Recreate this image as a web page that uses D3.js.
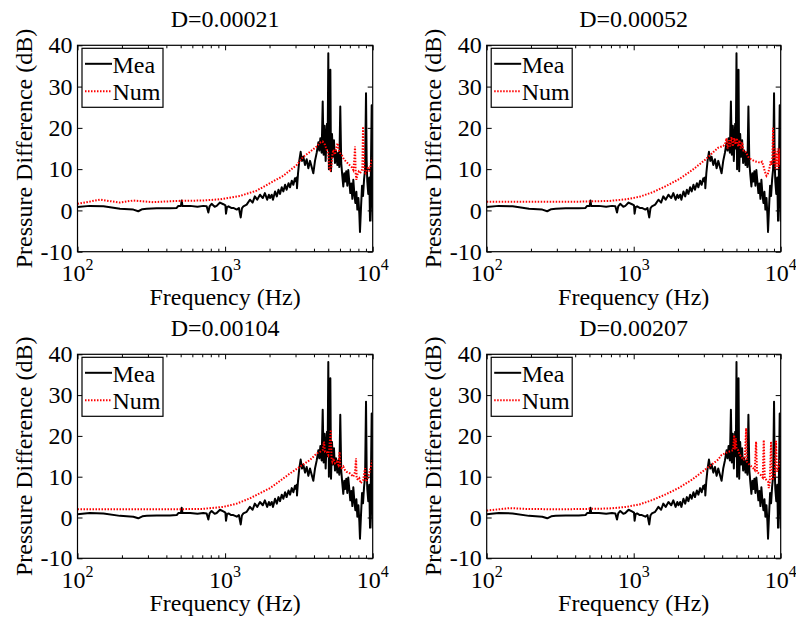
<!DOCTYPE html>
<html><head><meta charset="utf-8">
<script src="https://cdn.jsdelivr.net/npm/d3@7"></script>
<style>
body{margin:0;background:#fff}
text{font-family:"Liberation Serif","Tinos","Nimbus Roman","FreeSerif";}
</style>
</head><body><svg id="c" width="796" height="618" style="font-family:'Liberation Serif'"></svg>
<script>
// ---------- data ----------
const titles = ["D=0.00021", "D=0.00052", "D=0.00104", "D=0.00207"];
const seriesNames = ["Mea", "Num"];
const yTicks = [-10, 0, 10, 20, 30, 40];
const xMajor = [100, 1000, 10000];
const xMajorExp = ["2", "3", "4"];

const meaFreq = [100,121,150,194,239,258,275,295,344,423,470,482,502,508,514,580,650,711,750,770,785,810,850,877,923,973,1005,1014,1030,1055,1100,1137,1200,1240,1276,1300,1330,1400,1473,1536,1590,1650,1723,1800,1860,1928,1980,2015,2070,2110,2180,2240,2300,2355,2420,2480,2550,2610,2690,2754,2830,2900,2975,3020,3055,3070,3120,3180,3250,3320,3388,3480,3570,3665,3760,3860,3960,4065,4176,4285,4350,4420,4510,4584,4650,4725,4800,4900,4950,5003,5050,5110,5165,5220,5300,5380,5465,5550,5640,5760,5850,5940,6030,6120,6220,6320,6420,6520,6620,6730,6830,6940,7050,7160,7280,7390,7510,7630,7750,7870,8000,8120,8200,8340,8470,8600,8740,8880,9010,9100,9190,9330,9480,9590,9680,9845,9910,9970,10000];
const meaDb = [0.8,1.1,1.0,0.4,0.2,-0.2,0.3,0.4,0.5,0.5,0.6,1.1,1.1,2.4,1.1,1.1,0.9,1.1,1.0,-0.5,1.0,1.6,0.9,1.1,1.9,1.5,1.2,-0.8,0.8,1.0,0.6,0.6,0.2,0.6,-1.7,0.5,1.0,1.4,2.6,1.9,3.4,2.6,3.8,3.0,4.2,2.6,3.8,3.0,3.8,2.6,4.6,3.4,5.0,4.0,5.6,4.6,6.2,5.0,6.6,5.6,7.2,6.2,7.8,7.0,8.0,5.4,9.0,12.0,14.2,12.0,13.0,11.0,12.4,10.2,12.0,10.5,9.0,12.0,14.0,16.5,14.5,17.5,14.0,26.4,13.5,20.5,12.0,21.0,15.0,38.1,10.0,20.0,34.1,9.5,18.5,13.0,17.0,11.5,14.5,11.0,14.0,10.5,25.2,11.5,8.5,5.8,9.0,7.0,9.5,6.0,9.8,7.0,4.2,6.5,2.8,7.4,4.0,1.8,4.5,0.2,3.0,-1.0,-5.2,1.0,6.0,3.5,7.5,10.0,28.4,12.0,7.0,4.0,8.0,-2.5,4.0,25.5,5.0,-2.5,1.0];

const num1Freq = [100,142,194,238,327,470,711,923,1260,1637,2015,2480,3055,3390,3760,4176,4400,4580,4751,4875,5003,5080,5165,5240,5330,5410,5550,5700,5790,5880,6000,6160,6320,6490,6660,6830,7015,7200,7390,7510,7590,7670,7750,7870,8040,8200,8380,8510,8600,8690,8780,8960,9140,9330,9530,9720,9860,10000];
const num1Db = [1.6,2.6,1.9,2.4,2.0,2.3,2.4,2.7,3.5,4.8,6.6,8.4,11.0,13.0,14.2,15.5,16.4,16.7,15.9,14.7,13.9,10.3,9.8,10.3,13.5,14.7,13.5,15.5,16.3,14.7,13.9,13.5,12.7,12.1,11.7,11.3,10.9,10.5,9.8,12.3,15.5,9.0,7.4,8.6,9.4,9.0,9.4,10.2,20.3,14.7,9.4,9.0,9.8,10.6,9.4,11.4,12.3,12.7];

const num2Freq = [100,200,400,684,889,1094,1346,1658,2040,2511,3093,3500,3760,4065,4176,4285,4350,4440,4530,4630,4725,4825,4925,5030,5136,5240,5350,5465,5580,5700,5850,6000,6160,6320,6660,7015,7310,7450,7630,7790,8000,8200,8420,8550,8690,8780,8880,8960,9060,9140,9240,9330,9430,9530,9630,9720,9820,9910,10000];
const num2Db = [2.1,2.1,2.1,2.3,2.7,3.3,4.4,5.9,7.6,9.8,12.4,14.2,15.2,15.6,16.0,17.5,15.0,17.0,15.5,17.8,15.5,17.5,16.0,17.5,15.5,17.0,15.0,16.5,14.5,14.5,13.8,13.0,12.6,12.3,11.9,11.7,11.5,11.8,10.8,9.5,8.4,9.0,10.5,12.0,11.0,13.0,20.0,14.0,11.0,15.0,10.0,14.0,11.0,15.0,10.0,13.5,11.0,15.0,12.0];

const num3Freq = [100,200,400,700,973,1200,1473,1800,2015,2240,2754,3320,3760,4176,4395,4584,4680,4751,4875,5003,5080,5200,5260,5330,5410,5550,5700,5850,5970,6030,6160,6320,6490,6660,6830,7015,7200,7390,7590,7710,7790,7950,8120,8290,8470,8630,8780,8880,8960,9140,9330,9590,9845,10000];
const num3Db = [2.0,2.0,2.0,2.1,2.6,3.4,4.7,6.3,7.2,8.4,10.8,12.8,14.1,15.7,16.1,16.5,18.6,16.1,16.1,15.3,16.9,21.5,14.5,13.7,14.5,13.3,13.7,12.9,16.1,12.5,12.1,12.5,11.6,11.2,11.0,10.8,10.4,10.0,11.2,14.5,9.6,9.2,9.6,8.4,8.8,9.2,11.2,12.1,8.8,9.2,10.0,11.6,13.3,14.1];

const num4Freq = [100,144,187,314,684,889,1094,1346,1658,2015,2500,3000,3400,3760,3960,4395,4751,4825,4875,4950,5003,5136,5272,5410,5550,5700,5820,5880,6000,6160,6320,6490,6660,6800,6900,7090,7310,7550,7670,7790,8000,8200,8300,8420,8600,8740,8920,9100,9290,9430,9590,9845,10000];
const num4Db = [1.7,2.3,2.1,2.0,2.2,2.6,3.2,4.3,5.7,7.2,9.3,11.5,13.0,14.2,15.3,16.1,16.5,20.2,16.7,19.4,16.9,16.5,15.3,14.9,14.1,14.3,21.9,13.7,13.3,12.9,12.5,12.1,11.6,18.6,11.2,10.8,10.4,9.8,19.0,9.6,9.2,8.8,7.2,8.4,18.6,9.2,9.6,10.0,18.8,11.2,12.1,13.3,14.5];

const numFreqs = [num1Freq, num2Freq, num3Freq, num4Freq];
const numDbs = [num1Db, num2Db, num3Db, num4Db];

// ---------- layout ----------
const FS = 24;
const layout = [
  {l: 77.5, r: 372.7, t: 45.3, b: 251.7},
  {l: 486.7, r: 780.7, t: 45.3, b: 251.7},
  {l: 77.5, r: 372.7, t: 354.3, b: 558.3},
  {l: 486.7, r: 780.7, t: 354.3, b: 558.3}
];

const svg = d3.select("#c");
const minor = [];
for (let e = 100; e < 10000; e *= 10) for (let k = 2; k <= 9; k++) minor.push(e * k);

function styleAxis(g) {
  g.attr("font-family", null).attr("font-size", null);
  g.select(".domain").remove();
  g.selectAll(".tick line").attr("stroke", "#000").attr("stroke-width", 1);
}
function txt(sel) {
  return sel.style("font-family", '"Liberation Serif"').style("font-size", FS + "px").attr("fill", "#000");
}

layout.forEach((L, i) => {
  const x = d3.scaleLog().domain([100, 10000]).range([L.l, L.r]);
  const y = d3.scaleLinear().domain([-10, 40]).range([L.b, L.t]);
  const g = svg.append("g");
  const cid = "clip" + i;
  svg.append("clipPath").attr("id", cid).append("rect")
    .attr("x", L.l).attr("y", L.t).attr("width", L.r - L.l).attr("height", L.b - L.t);

  const line = d3.line().x(d => x(d[0])).y(d => y(d[1]));
  g.append("path").datum(d3.zip(meaFreq, meaDb)).attr("d", line)
    .attr("fill", "none").attr("stroke", "#000").attr("stroke-width", 2)
    .attr("stroke-linejoin", "round").attr("clip-path", `url(#${cid})`);
  g.append("path").datum(d3.zip(numFreqs[i], numDbs[i])).attr("d", line)
    .attr("fill", "none").attr("stroke", "#ff0000").attr("stroke-width", 2)
    .attr("stroke-dasharray", "1.5,1.5").attr("clip-path", `url(#${cid})`);

  g.append("g").attr("transform", `translate(0,${L.b})`)
    .call(d3.axisBottom(x).tickValues(xMajor).tickSize(-5).tickFormat(() => "")).call(styleAxis);
  g.append("g").attr("transform", `translate(0,${L.b})`)
    .call(d3.axisBottom(x).tickValues(minor).tickSize(-3).tickFormat(() => "")).call(styleAxis);
  g.append("g").attr("transform", `translate(0,${L.t})`)
    .call(d3.axisTop(x).tickValues(xMajor).tickSize(-5).tickFormat(() => "")).call(styleAxis);
  g.append("g").attr("transform", `translate(0,${L.t})`)
    .call(d3.axisTop(x).tickValues(minor).tickSize(-3).tickFormat(() => "")).call(styleAxis);
  const yl = g.append("g").attr("transform", `translate(${L.l},0)`)
    .call(d3.axisLeft(y).tickValues(yTicks).tickSize(-5).tickPadding(5).tickFormat(d => String(d)))
    .call(styleAxis);
  txt(yl.selectAll("text"));
  g.append("g").attr("transform", `translate(${L.r},0)`)
    .call(d3.axisRight(y).tickValues(yTicks).tickSize(-5).tickFormat(() => "")).call(styleAxis);

  g.append("rect").attr("x", L.l).attr("y", L.t).attr("width", L.r - L.l).attr("height", L.b - L.t)
    .attr("fill", "none").attr("stroke", "#000").attr("stroke-width", 1.2);

  xMajor.forEach((v, k) => {
    const t = txt(g.append("text")).attr("x", x(v)).attr("y", L.b + 29.5).attr("text-anchor", "middle");
    t.append("tspan").text("10");
    t.append("tspan").attr("dy", -11).style("font-size", "16px").text(xMajorExp[k]);
  });

  const cx = (L.l + L.r) / 2, cy = (L.t + L.b) / 2;
  txt(g.append("text")).attr("x", cx).attr("y", L.b + 53).attr("text-anchor", "middle").text("Frequency (Hz)");
  txt(g.append("text")).attr("x", cx).attr("y", L.t - 18.6).attr("text-anchor", "middle").text(titles[i]);
  txt(g.append("text")).attr("transform", `translate(${L.l - 46},${cy}) rotate(-90)`)
    .attr("text-anchor", "middle").text("Pressure Difference (dB)");

  const lg = g.append("g").attr("transform", `translate(${L.l + 4.5},${L.t + 3})`);
  lg.append("rect").attr("width", 81).attr("height", 59).attr("fill", "#fff")
    .attr("stroke", "#000").attr("stroke-width", 1.2);
  const styles = [{c: "#000", w: 2, d: null}, {c: "#ff0000", w: 2, d: "1.5,1.5"}];
  seriesNames.forEach((nm, k) => {
    const ly = 15.5 + k * 27.5;
    const ln = lg.append("line").attr("x1", 3).attr("x2", 30).attr("y1", ly).attr("y2", ly)
      .attr("stroke", styles[k].c).attr("stroke-width", styles[k].w);
    if (styles[k].d) ln.attr("stroke-dasharray", styles[k].d);
    txt(lg.append("text")).attr("x", 30.5).attr("y", ly + 9).text(nm);
  });
});
</script></body></html>
